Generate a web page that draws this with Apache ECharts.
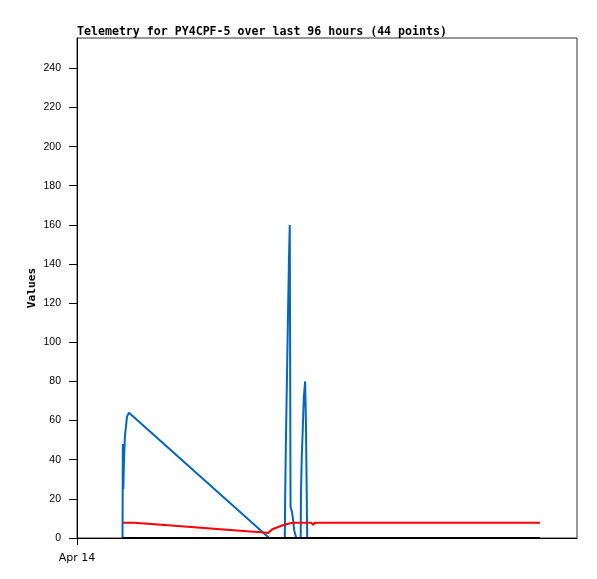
<!DOCTYPE html>
<html>
<head>
<meta charset="utf-8">
<script src="https://cdn.jsdelivr.net/npm/echarts@6/dist/echarts.min.js"></script>
<style>html,body{margin:0;padding:0;background:#fff}#c{width:597px;height:579px}</style>
</head>
<body>
<div id="c"></div>
<script>
// x values are hours from the start of the axis (Apr 14), axis spans 96 hours
const titleText = 'Telemetry for PY4CPF-5 over last 96 hours (44 points)';
const yTicks = [0, 20, 40, 60, 80, 100, 120, 140, 160, 180, 200, 220, 240];
const xLabel = 'Apr 14';

const blueSeries = [
  [8.74, 0], [8.8, 48], [8.9, 25], [9.0, 38], [9.2, 52], [9.4, 57], [9.6, 62], [9.98, 64],
  [36.9, 0], [39.9, 0], [39.95, 17], [40.1, 48], [40.3, 80], [40.5, 112], [40.7, 143], [40.85, 160],
  [41.0, 16], [41.3, 13], [41.5, 9], [41.7, 4], [42.1, 0], [42.95, 0], [43.0, 23], [43.15, 41],
  [43.35, 56], [43.55, 72], [43.8, 80], [43.95, 60], [44.2, 0], [88.9, 0]
];
const redSeries = [
  [8.83, 7.8], [11, 7.8], [20, 6], [30, 4], [36, 2.8], [36.7, 2.6], [37.5, 4.5], [38.5, 5.5],
  [39.5, 6.5], [40.5, 7.3], [41.5, 7.8], [45.0, 7.8], [45.3, 6.7], [45.7, 7.8], [88.9, 7.8]
];
const blackSeries = [[8.74, 0], [88.9, 0]];

const font = 'DejaVu Sans Mono';
const chart = echarts.init(document.getElementById('c'));
chart.setOption({
  animation: false,
  backgroundColor: '#fff',
  title: {
    text: titleText, left: 77, top: 26, padding: 0,
    textStyle: { fontFamily: font, fontWeight: 'bold', fontSize: 11.6, color: '#000' }
  },
  grid: { left: 77, right: 20, top: 38, bottom: 41, show: true, borderColor: '#333', borderWidth: 1 },
  xAxis: {
    type: 'value', min: 0, max: 96,
    axisLine: { show: true, lineStyle: { color: '#000' } },
    axisTick: { show: true, customValues: [0], length: 7, lineStyle: { color: '#000' } },
    axisLabel: {
      customValues: [0], formatter: function () { return xLabel; },
      fontFamily: 'DejaVu Sans', fontSize: 11, color: '#000', margin: 15
    },
    splitLine: { show: false }
  },
  yAxis: {
    type: 'value', min: 0, max: 255.5, interval: 20,
    name: 'Values', nameLocation: 'middle', nameGap: 39, nameRotate: 90, nameMoveOverlap: false,
    nameTextStyle: { fontFamily: font, fontWeight: 'bold', fontSize: 11.2, color: '#000' },
    axisLine: { show: true, lineStyle: { color: '#000' } },
    axisTick: { show: true, customValues: yTicks, length: 8, lineStyle: { color: '#000' } },
    axisLabel: { customValues: yTicks, fontFamily: 'Liberation Sans', fontSize: 10.5, color: '#000', margin: 16 },
    splitLine: { show: false }
  },
  series: [
    { type: 'line', data: blueSeries, symbol: 'none', lineStyle: { color: '#0066cc', width: 2 } },
    { type: 'line', data: redSeries, symbol: 'none', lineStyle: { color: '#ff0000', width: 2 } },
    { type: 'line', data: blackSeries, symbol: 'none', lineStyle: { color: '#000', width: 2 } }
  ]
});
</script>
</body>
</html>
